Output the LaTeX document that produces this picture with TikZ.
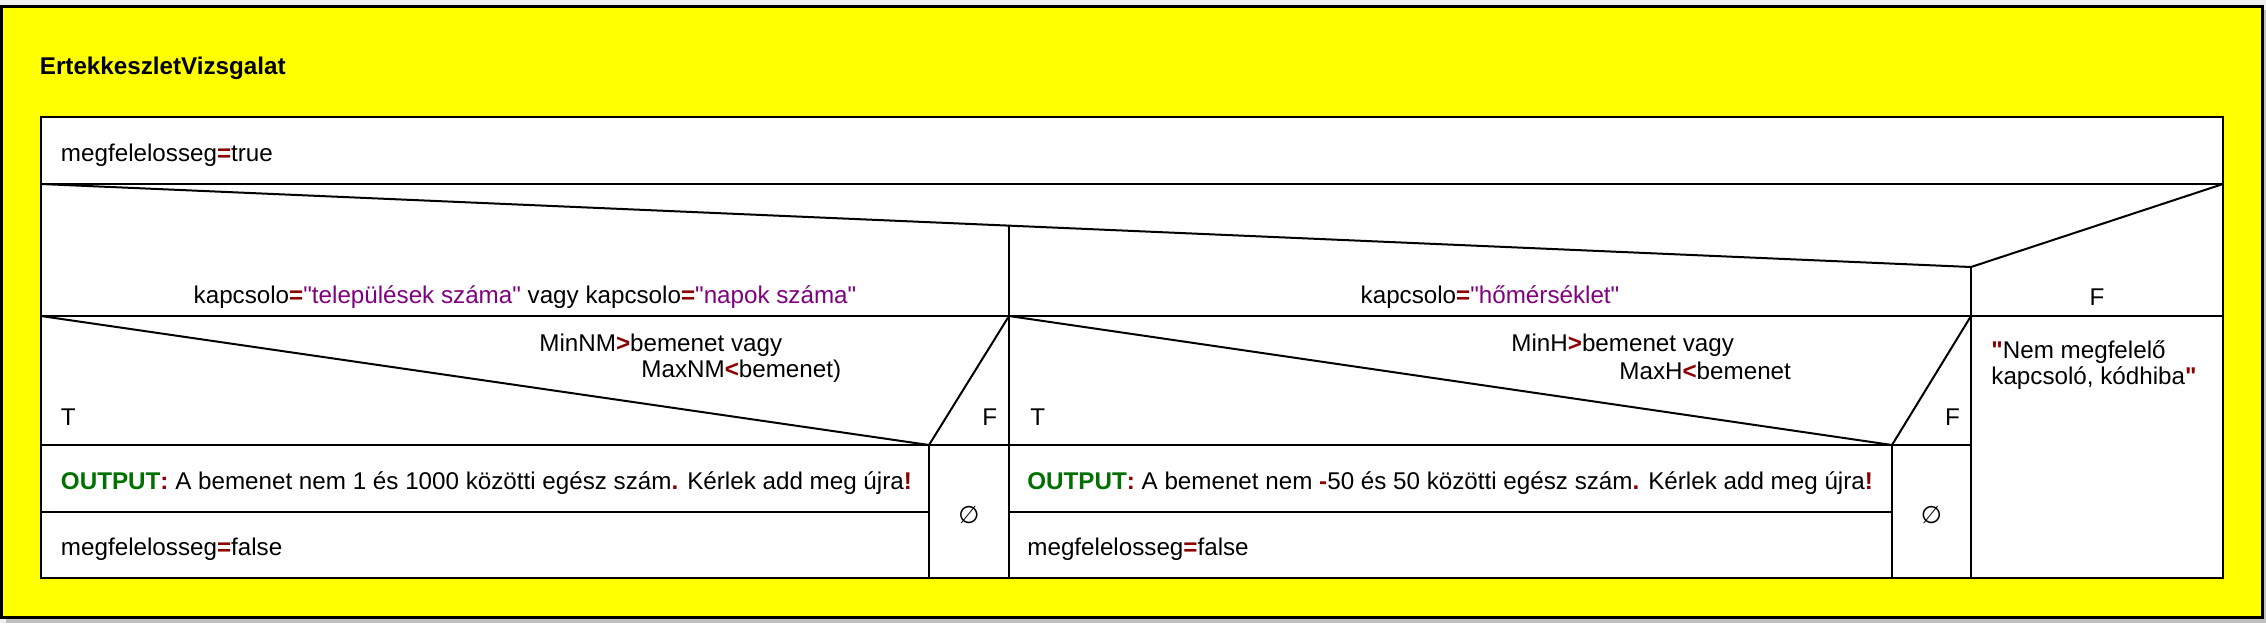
\documentclass[tikz,border=0pt]{standalone}
\usepackage{fontspec}
\setmainfont{Liberation Sans}[Ligatures=TeXOff]
\newfontfamily\symfont{DejaVu Sans}
\usepackage{xcolor}
\usetikzlibrary{positioning}
\definecolor{strpurple}{RGB}{128,0,128}
\definecolor{opred}{RGB}{139,0,0}
\definecolor{outgreen}{RGB}{0,112,0}
\definecolor{nsyellow}{RGB}{255,255,0}
\definecolor{bggray}{RGB}{240,240,240}
\definecolor{shadowgray}{RGB}{192,192,192}
\newcommand{\dq}{\char34}
\newcommand{\op}[1]{\textbf{\textcolor{opred}{#1}}}
\newcommand{\str}[1]{\textcolor{strpurple}{\dq#1\dq}}

\begin{document}
\begin{tikzpicture}[
    x=0.5pt, y=-0.5pt,
    txt/.style={anchor=west, inner sep=0pt, font=\fontsize{12.1}{14}\selectfont},
    ctxt/.style={txt, anchor=center},
    ln/.style={line width=1pt}
]
    % Background and frame
    \useasboundingbox (0,0) rectangle (2266,623);
    \fill[bggray] (0,0) rectangle (2266,623);
    \fill[shadowgray] (6,10) rectangle (2266,623);
    \draw[line width=1.5pt, fill=nsyellow] (1.5,6) rectangle (2262.5,617.5);
    \node[txt, font=\fontsize{12.1}{14}\selectfont\bfseries] (title) at (39.5,68) {ErtekkeszletVizsgalat};

    % Structure
    \draw[ln, fill=white] (41,117) rectangle (2223,577.5);
    \draw[ln] (41,184) -- (2223,184);
    \draw[ln] (41,184) -- (1971,267) -- (2223,184);
    \draw[ln] (1009,225.6) -- (1009,577.5);
    \draw[ln] (1971,267) -- (1971,577.5);
    \draw[ln] (41,316) -- (2223,316);
    \draw[ln] (41,316) -- (929,445) -- (1009,316);
    \draw[ln] (1009,316) -- (1892,445) -- (1971,316);
    \draw[ln] (41,445) -- (1971,445);
    \draw[ln] (929,445) -- (929,577.5);
    \draw[ln] (1892,445) -- (1892,577.5);
    \draw[ln] (41,512) -- (929,512);
    \draw[ln] (1009,512) -- (1892,512);

    % Texts
    \node[txt] (init) at (60.6,155) {megfelelosseg\op{=}true};
    \node[ctxt] (casea) at (525,297) {kapcsolo\op{=}\str{települések száma} vagy kapcsolo\op{=}\str{napok száma}};
    \node[ctxt] (caseb) at (1490,297) {kapcsolo\op{=}\str{hőmérséklet}};
    \node[ctxt] (casef) at (2097,297) {F};

    \node[txt] (condaone) at (539,345) {MinNM\op{>}bemenet vagy};
    \node[txt] (condatwo) at (641,371) {MaxNM\op{<}bemenet)};
    \node[txt] (conda_t) at (60.6,417) {T};
    \node[txt] (conda_f) at (982,417) {F};
    \node[txt] (outa) at (60.6,483) {\textbf{\textcolor{outgreen}{OUTPUT}\op{:}} A bemenet nem 1 és 1000 közötti egész szám\op{.} Kérlek add meg újra\op{!}};
    \node[txt] (setfa) at (60.6,549) {megfelelosseg\op{=}false};
    \node[ctxt] (emptya) at (969,515) {\symfont ∅};

    \node[txt] (condbone) at (1511,345) {MinH\op{>}bemenet vagy};
    \node[txt] (condbtwo) at (1619,371) {MaxH\op{<}bemenet};
    \node[txt] (condb_t) at (1030,417) {T};
    \node[txt] (condb_f) at (1944.6,417) {F};
    \node[txt] (outb) at (1027,483) {\textbf{\textcolor{outgreen}{OUTPUT}\op{:}} A bemenet nem \op{-}50 és 50 közötti egész szám\op{.} Kérlek add meg újra\op{!}};
    \node[txt] (setfb) at (1027,549) {megfelelosseg\op{=}false};
    \node[ctxt] (emptyb) at (1931.5,515) {\symfont ∅};

    \node[txt] (errone) at (1991,352) {\op{\dq}Nem megfelelő};
    \node[txt] (errtwo) at (1991,378) {kapcsoló, kódhiba\op{\dq}};

\end{tikzpicture}
\end{document}
